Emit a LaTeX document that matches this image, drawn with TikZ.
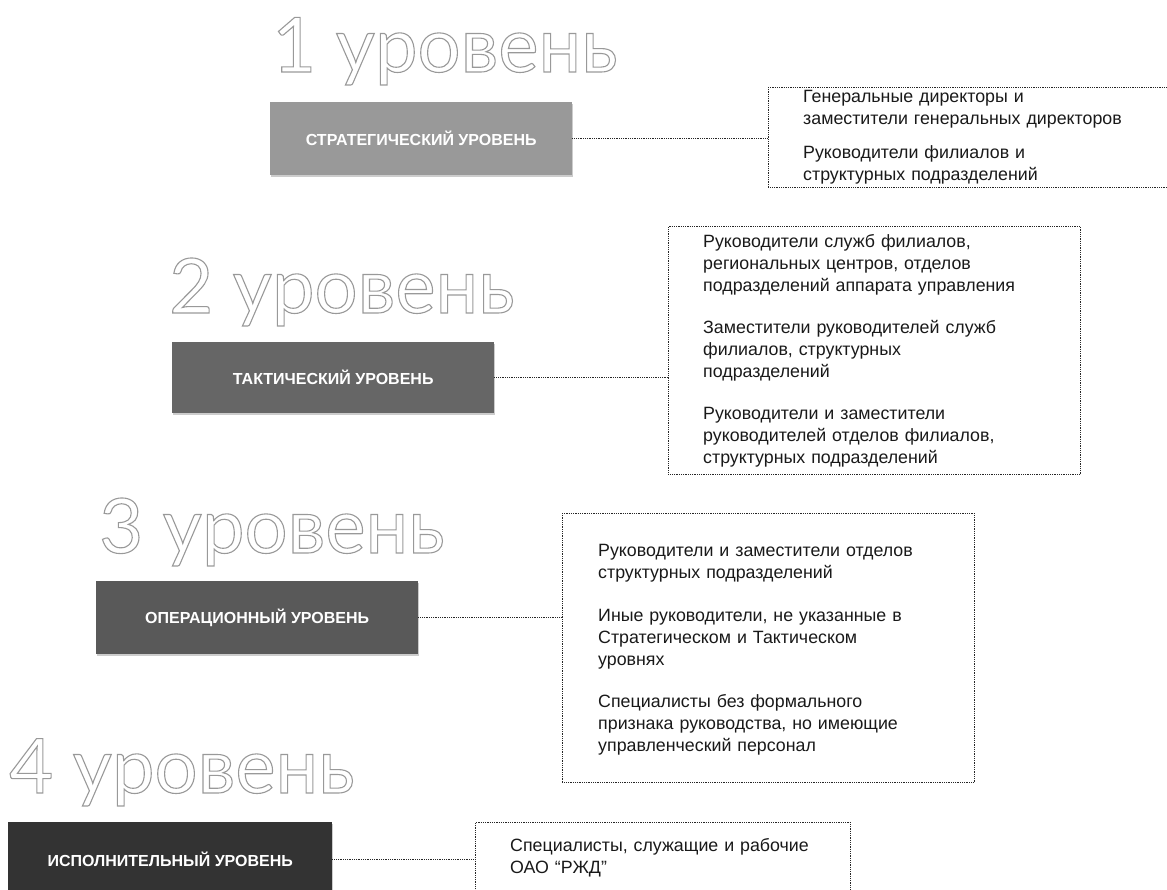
\documentclass[tikz,border=0pt]{standalone}
\usepackage{fontspec}
\setmainfont{Liberation Sans}
\newfontfamily\headfont{Lato}
\usepackage{xcolor}
\usetikzlibrary{positioning, shadows}

% outlined (hollow) glyphs through the PDF text render mode
\newcommand\hollowtext[1]{\special{pdf:literal direct 1 Tr 1.1 w 0.6 0.6 0.6 RG}#1\special{pdf:literal direct 0 Tr}}

\begin{document}
\begin{tikzpicture}[x=1pt, y=-1pt,
  lvlbox/.style={anchor=north west, inner sep=0pt, minimum height=73pt,
                 text=white, font=\bfseries\fontsize{16}{19}\selectfont,
                 drop shadow={shadow xshift=0.5pt, shadow yshift=-1.5pt, opacity=0.2, fill=black}},
  infobox/.style={anchor=north west, inner sep=0pt, draw=black!85, line width=0.9pt,
                  dash pattern=on 0.9pt off 0.9pt},
  infotext/.style={anchor=north west, inner sep=0pt, align=left, text width=370pt,
                   font=\fontsize{17.8}{22}\selectfont, text=black!90},
  link/.style={draw=black!85, line width=0.9pt, dash pattern=on 0.9pt off 0.9pt},
  heading/.style={anchor=base west, inner sep=0pt, text=black!30,
                  font=\headfont\fontsize{76}{80}\selectfont}
]
  \useasboundingbox (0,0) rectangle (1167,890);

  % level boxes
  \node[lvlbox, fill=black!40, minimum width=302pt] (strat) at (270,102) {СТРАТЕГИЧЕСКИЙ УРОВЕНЬ};
  \node[lvlbox, fill=black!60, minimum width=322pt, minimum height=71pt] (takt) at (172,342) {ТАКТИЧЕСКИЙ УРОВЕНЬ};
  \node[lvlbox, fill=black!65, minimum width=322pt] (oper) at (96,581) {ОПЕРАЦИОННЫЙ УРОВЕНЬ};
  \node[lvlbox, fill=black!80, minimum width=324pt, minimum height=74pt] (ispol) at (8,822) {ИСПОЛНИТЕЛЬНЫЙ УРОВЕНЬ};

  % dotted frames
  \node[infobox, minimum width=420pt, minimum height=100pt] (info1) at (768,87) {};
  \node[infobox, minimum width=412pt, minimum height=248pt] (info2) at (668,226) {};
  \node[infobox, minimum width=412pt, minimum height=269pt] (info3) at (562,513) {};
  \node[infobox, minimum width=375pt, minimum height=90pt] (info4) at (475,822) {};

  % frame texts
  \node[infotext] (txt1) at (803,90) {Генеральные директоры и\\заместители генеральных директоров\\[12pt]
    Руководители филиалов и\\структурных подразделений};
  \node[infotext] (txt2) at (703,234) {Руководители служб филиалов,\\региональных центров, отделов\\подразделений аппарата управления\\[20pt]
    Заместители руководителей служб\\филиалов, структурных\\подразделений\\[20pt]
    Руководители и заместители\\руководителей отделов филиалов,\\структурных подразделений};
  \node[infotext] (txt3) at (598,544) {Руководители и заместители отделов\\структурных подразделений\\[21pt]
    Иные руководители, не указанные в\\Стратегическом и Тактическом\\уровнях\\[20pt]
    Специалисты без формального\\признака руководства, но имеющие\\управленческий персонал};
  \node[infotext] (txt4) at (510,838) {Специалисты, служащие и рабочие\\ОАО “РЖД”};

  % connectors
  \draw[link] (strat.east) -- (strat.east -| info1.west);
  \draw[link] (takt.east) -- (takt.east -| info2.west);
  \draw[link] (oper.east) -- (oper.east -| info3.west);
  \draw[link] (ispol.east) -- (ispol.east -| info4.west);

  % level headings
  \node[heading] (head1) at (272,72) {\hollowtext{1 уровень}};
  \node[heading] (head2) at (169,313) {\hollowtext{2 уровень}};
  \node[heading] (head3) at (99,553) {\hollowtext{3 уровень}};
  \node[heading] (head4) at (9,793) {\hollowtext{4 уровень}};
\end{tikzpicture}
\end{document}
